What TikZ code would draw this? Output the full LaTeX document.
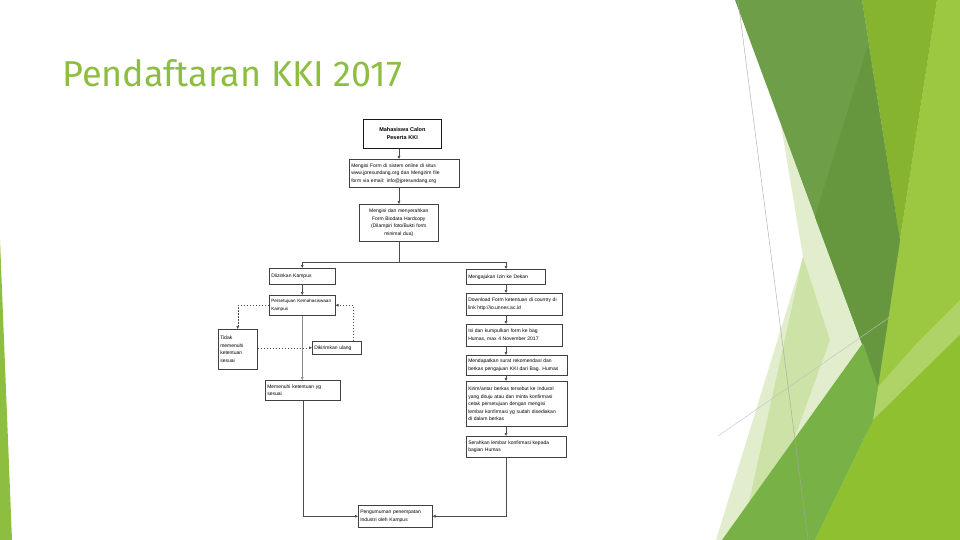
\documentclass[tikz,border=0pt]{standalone}
\usepackage{fontspec}
\setmainfont{Liberation Sans}
\newfontfamily\titlefont{Fira Sans}
\usetikzlibrary{arrows.meta}

\definecolor{titlegreen}{RGB}{141,190,64}
\definecolor{olive}{RGB}{110,158,72}
\definecolor{olivedk}{RGB}{102,151,62}
\definecolor{lime}{RGB}{134,180,46}
\definecolor{limelt}{RGB}{155,200,64}
\definecolor{leaf}{RGB}{120,178,70}
\definecolor{leafy}{RGB}{142,192,48}
\definecolor{pale}{RGB}{226,237,206}
\definecolor{palemid}{RGB}{204,226,166}

\tikzset{
  box/.style={draw=black!75, line width=0.5pt, fill=white, inner sep=2pt,
    anchor=north west, align=left, font=\fontsize{5}{7.5}\selectfont},
  link/.style={draw=black!70, line width=0.5pt, -{Latex[length=3pt,width=3pt]}},
  backlink/.style={link, dashed, dash pattern=on 1.5pt off 1.5pt},
}

\begin{document}
\begin{tikzpicture}[x=1pt, y=-1pt]
    \useasboundingbox (0,0) rectangle (960,540);

    % background shapes on the right
    \fill[pale] (781,125) -- (803,257) -- (716,540) -- (960,540) -- (960,0) -- (862,0) -- cycle;
    \fill[palemid] (803,257) -- (830,340) -- (790,450) -- (745,520) -- cycle;
    \fill[limelt] (937,0) -- (960,0) -- (960,540) -- (840,540) -- (878,387) -- (900,240) -- cycle;
    \fill[lime] (862,0) -- (937,0) -- (900,240) -- cycle;
    \fill[olive] (735,0) -- (862,0) -- (900,240) -- (878,387) -- cycle;
    \fill[olivedk] (868,45) -- (900,240) -- (878,387) -- (815,217) -- cycle;
    \fill[limelt!80!white] (878,387) -- (917,343) -- (960,300) -- (960,335) -- (873,420) -- cycle;
    \fill[leafy] (815,540) -- (873,420) -- (960,335) -- (960,540) -- cycle;
    \fill[leaf] (722,540) -- (863,343) -- (878,387) -- (873,420) -- (815,540) -- cycle;
    \draw[black!35, line width=0.4pt] (738,0) -- (808,540);
    \draw[black!25, line width=0.4pt] (718,436) -- (890,317);
    \fill[titlegreen] (0,240) -- (0,540) -- (12,540) -- cycle;

    % title
    \node[anchor=base west, inner sep=0pt, text=titlegreen, font=\titlefont\fontsize{36}{40}\selectfont]
      (title) at (62,87) {Pendaftaran KKI 2017};

    % main column
    \node[box, text width=74pt, minimum height=29pt, align=center, draw=black!90, line width=0.7pt,
      font=\bfseries\fontsize{5.5}{8}\selectfont]
      (calon) at (363,119) {Mahasiswa Calon\\Peserta KKI};
    \node[box, text width=106pt, minimum height=28pt] (isiform) at (349,159)
      {Mengisi Form di sistem online di situs\\www.jpresundang.org dan Mengirim file\\form via email: info@jpresundang.org};
    \node[box, text width=75pt, minimum height=37pt, align=center] (biodata) at (359,204)
      {Mengisi dan menyerahkan\\Form Biodata Hardcopy\\(Dilampiri foto/Bukti form\\minimal dua)};

    % left column
    \node[box, text width=62pt, minimum height=16pt] (izinkampus) at (269,268) {Diizinkan Kampus};
    \node[box, text width=62pt, minimum height=20pt, font=\fontsize{4.6}{7.5}\selectfont] (setuju) at (269,295)
      {Persetujuan Kemahasiswaan\\Kampus};
    \node[box, text width=35pt, minimum height=40pt] (tidak) at (218,329) {Tidak\\memenuhi\\ketentuan\\sesuai};
    \node[box, text width=45pt, minimum height=13pt] (ulang) at (312,341) {Dikirimkan ulang};
    \node[box, text width=71pt, minimum height=20pt] (sesuai) at (265,380) {Memenuhi ketentuan yg\\sesuai};

    % right column
    \node[box, text width=75pt, minimum height=15pt] (izindekan) at (466,269) {Mengajukan Izin ke Dekan};
    \node[box, text width=92pt, minimum height=22pt] (unduh) at (466,293) {Download Form ketentuan di country di\\link http://io.unnes.ac.id};
    \node[box, text width=92pt, minimum height=22pt] (kumpul) at (466,324) {Isi dan kumpulkan form ke bag\\Humas, max 4 November 2017};
    \node[box, text width=97pt, minimum height=20pt] (surat) at (466,355) {Mendapatkan surat rekomendasi dan\\berkas pengajuan KKI dari Bag. Humas};
    \node[box, text width=97pt, minimum height=45pt] (kirim) at (466,381)
      {Kirim/antar berkas tersebut ke Industri\\yang dituju atau dan minta konfirmasi\\cetak persetujuan dengan mengisi\\lembar konfirmasi yg sudah disediakan\\di dalam berkas};
    \node[box, text width=96pt, minimum height=21pt] (serah) at (466,436) {Serahkan lembar konfirmasi kepada\\bagian Humas};

    % end
    \node[box, text width=70pt, minimum height=22pt] (umum) at (358,505) {Pengumuman penempatan\\Industri oleh Kampus};

    \coordinate (spine) at (399,0);
    \coordinate (split) at (399,262);
    \coordinate (rc) at (506,0);

    \draw[link] (calon.south -| spine) -- (isiform.north -| spine);
    \draw[link] (isiform.south -| spine) -- (biodata.north -| spine);
    \draw[link, -] (biodata.south -| spine) -- (split);
    \draw[link] (split) -| (izinkampus.north);
    \draw[link] (split) -| (izindekan.north -| rc);

    \draw[link] (izinkampus.south) -- (setuju.north);
    \draw[backlink] (setuju.west) -| (tidak.north);
    \draw[backlink] (tidak.east |- ulang.west) -- (ulang.west);
    \draw[backlink] ([xshift=-8pt]ulang.north east) |- (setuju.east);
    \draw[link, draw=black!45] (setuju.south) -- (setuju.south |- sesuai.north);
    \draw[link] (sesuai.south) |- (umum.west);

    \draw[link] (izindekan.south -| rc) -- (unduh.north -| rc);
    \draw[link] (unduh.south -| rc) -- (kumpul.north -| rc);
    \draw[link] (kumpul.south -| rc) -- (surat.north -| rc);
    \draw[link] (surat.south -| rc) -- (kirim.north -| rc);
    \draw[link] (kirim.south -| rc) -- (serah.north -| rc);
    \draw[link] (serah.south -| rc) |- (umum.east);
\end{tikzpicture}
\end{document}
